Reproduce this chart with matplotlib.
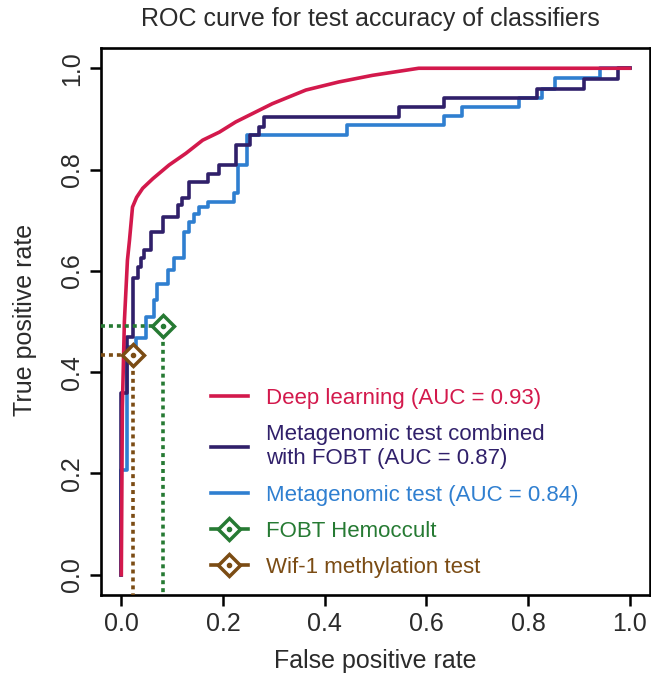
import matplotlib.pyplot as plt
from matplotlib.lines import Line2D

plt.rcParams['font.family'] = ['Liberation Sans', 'DejaVu Sans']

# ROC curves (false positive rate, true positive rate)
deep_fpr = [0, 0.002, 0.006, 0.012, 0.016, 0.022, 0.030, 0.042, 0.062, 0.094, 0.127,
            0.160, 0.193, 0.225, 0.251, 0.297, 0.363, 0.428, 0.494, 0.559, 0.585, 1.0]
deep_tpr = [0, 0.33, 0.50, 0.621, 0.66, 0.726, 0.745, 0.763, 0.782, 0.809, 0.832,
            0.858, 0.874, 0.894, 0.907, 0.930, 0.957, 0.973, 0.986, 0.996, 1.0, 1.0]

comb_fpr = [0, 0, 0.012, 0.022, 0.032, 0.039, 0.045, 0.058, 0.081, 0.111, 0.120, 0.134,
            0.170, 0.193, 0.225, 0.253, 0.271, 0.281, 0.546, 0.635, 0.818, 0.910, 0.978, 1.0]
comb_tpr = [0, 0.358, 0.470, 0.585, 0.608, 0.625, 0.642, 0.677, 0.707, 0.730, 0.743, 0.776,
            0.792, 0.809, 0.848, 0.868, 0.884, 0.904, 0.924, 0.941, 0.960, 0.978, 1.0, 1.0]

meta_fpr = [0, 0, 0.012, 0.029, 0.048, 0.065, 0.071, 0.091, 0.104, 0.124, 0.134, 0.143, 0.153,
            0.170, 0.222, 0.229, 0.248, 0.444, 0.635, 0.670, 0.782, 0.828, 0.854, 0.942, 1.0]
meta_tpr = [0, 0.207, 0.450, 0.467, 0.509, 0.542, 0.575, 0.602, 0.625, 0.677, 0.697, 0.713, 0.727,
            0.736, 0.753, 0.809, 0.868, 0.888, 0.905, 0.924, 0.941, 0.960, 0.980, 1.0, 1.0]

# single operating points
fobt_fpr, fobt_tpr = 0.081, 0.491
wif_fpr, wif_tpr = 0.022, 0.434

labels = ['Deep learning (AUC = 0.93)',
          'Metagenomic test combined\nwith FOBT (AUC = 0.87)',
          'Metagenomic test (AUC = 0.84)',
          'FOBT Hemoccult',
          'Wif-1 methylation test']

c_deep = '#d3194c'
c_comb = '#30206a'
c_meta = '#2f7fd0'
c_fobt = '#267a33'
c_wif = '#7b4c14'
txt = '#2b2b2b'

fig = plt.figure(figsize=(6.51, 6.81), dpi=100)
ax = fig.add_axes([101 / 651, 1 - 595 / 681, 549 / 651, 547 / 681])
ax.set_xlim(-0.04, 1.04)
ax.set_ylim(-0.04, 1.04)
x0, y0 = -0.04, -0.04

lw = 2.6
ax.step(meta_fpr, meta_tpr, where='post', color=c_meta, lw=lw, zorder=2)
ax.step(comb_fpr, comb_tpr, where='post', color=c_comb, lw=lw, zorder=3)
ax.plot(deep_fpr, deep_tpr, color=c_deep, lw=lw, zorder=4)

dots = (0, (1.1, 1.1))
for fx, fy, col in [(fobt_fpr, fobt_tpr, c_fobt), (wif_fpr, wif_tpr, c_wif)]:
    ax.plot([x0, fx], [fy, fy], color=col, lw=2.6, ls=dots, zorder=5)
    ax.plot([fx, fx], [fy, y0], color=col, lw=2.6, ls=dots, zorder=5)
    ax.plot([fx], [fy], marker='D', ms=11, mfc='white', mec=col, mew=2.5, zorder=6)
    ax.plot([fx], [fy], marker='o', ms=3, color=col, zorder=7)

ticks = [0.0, 0.2, 0.4, 0.6, 0.8, 1.0]
ax.set_xticks(ticks)
ax.set_yticks(ticks)
ax.set_xticklabels([f'{t:.1f}' for t in ticks])
ax.set_yticklabels([f'{t:.1f}' for t in ticks], rotation=90, va='center')
ax.tick_params(direction='out', length=8, width=1.8, labelsize=18, colors='black',
               labelcolor=txt, pad=4)
for s in ax.spines.values():
    s.set_linewidth(1.9)

fig.text(370 / 651, 1 - 19 / 681, 'ROC curve for test accuracy of classifiers',
         ha='center', va='center', fontsize=18, color=txt)
fig.text(375 / 651, 1 - 661 / 681, 'False positive rate',
         ha='center', va='center', fontsize=18, color=txt)
fig.text(25 / 651, 1 - 320 / 681, 'True positive rate', rotation=90,
         ha='center', va='center', fontsize=18, color=txt)

handles = [
    Line2D([], [], color=c_deep, lw=lw),
    Line2D([], [], color=c_comb, lw=lw),
    Line2D([], [], color=c_meta, lw=lw),
    (Line2D([], [], color=c_fobt, lw=lw),
     Line2D([], [], ls='none', marker='D', ms=11, mfc='white', mec=c_fobt, mew=2.5),
     Line2D([], [], ls='none', marker='o', ms=3, color=c_fobt)),
    (Line2D([], [], color=c_wif, lw=lw),
     Line2D([], [], ls='none', marker='D', ms=11, mfc='white', mec=c_wif, mew=2.5),
     Line2D([], [], ls='none', marker='o', ms=3, color=c_wif)),
]
leg = ax.legend(handles, labels, loc='upper left', bbox_to_anchor=(200 / 651, 1 - 377 / 681),
                bbox_transform=fig.transFigure, frameon=False, fontsize=16,
                handlelength=1.65, handletextpad=0.8, labelspacing=0.68, borderpad=0)
for t, col in zip(leg.get_texts(), [c_deep, c_comb, c_meta, c_fobt, c_wif]):
    t.set_color(col)

fig.savefig('out.png', dpi=100)
